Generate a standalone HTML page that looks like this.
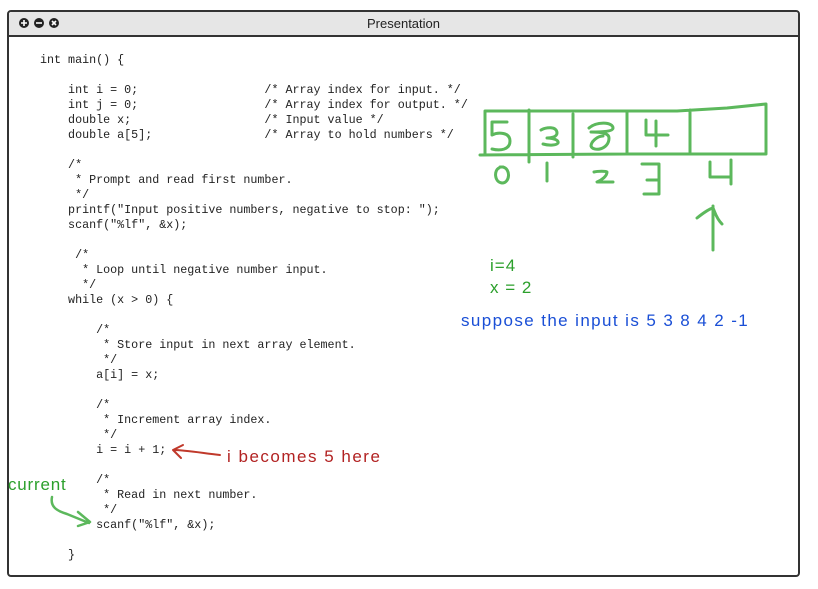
<!DOCTYPE html>
<html><head><style>
body{margin:0;background:#fff;width:818px;height:589px;overflow:hidden;position:relative;font-family:"Liberation Sans",sans-serif}
.win{position:absolute;left:7px;top:10px;width:789px;height:563px;border:2px solid #333;border-radius:4px;background:#fff}
.tb{position:absolute;left:0;top:0;right:0;height:23px;background:#e6e6e6;border-bottom:2px solid #333;border-radius:3px 3px 0 0}
.tt{position:absolute;left:0;right:0;top:4px;text-align:center;font-size:13px;color:#222}
pre{position:absolute;left:40px;top:53px;margin:0;font-family:"Liberation Mono",monospace;font-size:11.7px;line-height:15px;color:#222}
.t{position:absolute;font-size:17px;white-space:nowrap}
</style></head><body>
<div class="win"><div class="tb"><div class="tt">Presentation</div>
<svg width="60" height="23" style="position:absolute;left:5px;top:0">
<circle cx="10" cy="11" r="5" fill="#222"/><path d="M7 11h6M10 8v6" stroke="#fff" stroke-width="1.6"/>
<circle cx="25" cy="11" r="5" fill="#222"/><path d="M22 11h6" stroke="#fff" stroke-width="1.6"/>
<circle cx="40" cy="11" r="5" fill="#222"/><path d="M38 9l4 4M42 9l-4 4" stroke="#fff" stroke-width="1.6"/>
</svg></div></div>
<pre>int main() {

    int i = 0;                  /* Array index for input. */
    int j = 0;                  /* Array index for output. */
    double x;                   /* Input value */
    double a[5];                /* Array to hold numbers */

    /*
     * Prompt and read first number.
     */
    printf("Input positive numbers, negative to stop: ");
    scanf("%lf", &amp;x);

     /*
      * Loop until negative number input.
      */
    while (x &gt; 0) {

        /*
         * Store input in next array element.
         */
        a[i] = x;

        /*
         * Increment array index.
         */
        i = i + 1;

        /*
         * Read in next number.
         */
        scanf("%lf", &amp;x);

    }</pre>
<svg width="818" height="589" style="position:absolute;left:0;top:0" fill="none" stroke="#5cb85c" stroke-width="3" stroke-linecap="round" stroke-linejoin="round">
<path d="M485 111H677L727 108 766 104V154H627L480 155M485 111V154M529 110V162M573 114V157M627 111V154M690 110V152"/>
<path d="M507 122h-15v13c6-3 18-3 18 6s-10 10-18 8"/>
<path d="M541 130c5-3 16-4 16 3 0 4-6 5-10 5 6 0 12 2 11 5-1 2-8 3-15 1"/>
<path d="M589 128c8-7 24-6 24 0 0 4-14 4-22 4 6 0 18 0 18 6 0 12-16 14-18 8 0-4 6-10 12-10"/>
<path d="M646 120v15h22M656 121v25"/>
<path d="M499 168c-5 2-5 14 3 15 8 0 9-14 1-16h-3"/>
<path d="M547 163v18"/>
<path d="M594 172c4-1 12-1 13 0 0 4-5 8-10 10h16"/>
<path d="M642 164h17v16h-12v0M659 180v14h-15"/>
<path d="M710 162v15h20M731 160v24"/>
<path d="M713 250V206M697 218c5-4 12-9 16-10 2 4 3 10 9 16"/>
<path d="M220 455c-18-2-35-5-47-5M183 445l-10 5 8 8" stroke="#c0392b" stroke-width="2"/>
<path d="M52 497c-2 10 5 14 15 17l22 9M78 512l12 10-12 4" stroke-width="2.5"/>
</svg>
<div class="t" style="left:490px;top:256px;color:#2ca02c;letter-spacing:1px">i=4</div>
<div class="t" style="left:490px;top:278px;color:#2ca02c;letter-spacing:1px">x = 2</div>
<div class="t" style="left:461px;top:311px;color:#1a4fd6;letter-spacing:1.4px">suppose the input is 5 3 8 4 2 -1</div>
<div class="t" style="left:227px;top:447px;color:#b22222;letter-spacing:1.5px">i becomes 5 here</div>
<div class="t" style="left:8px;top:475px;color:#2ca02c;letter-spacing:0.8px">current</div>
</body></html>
